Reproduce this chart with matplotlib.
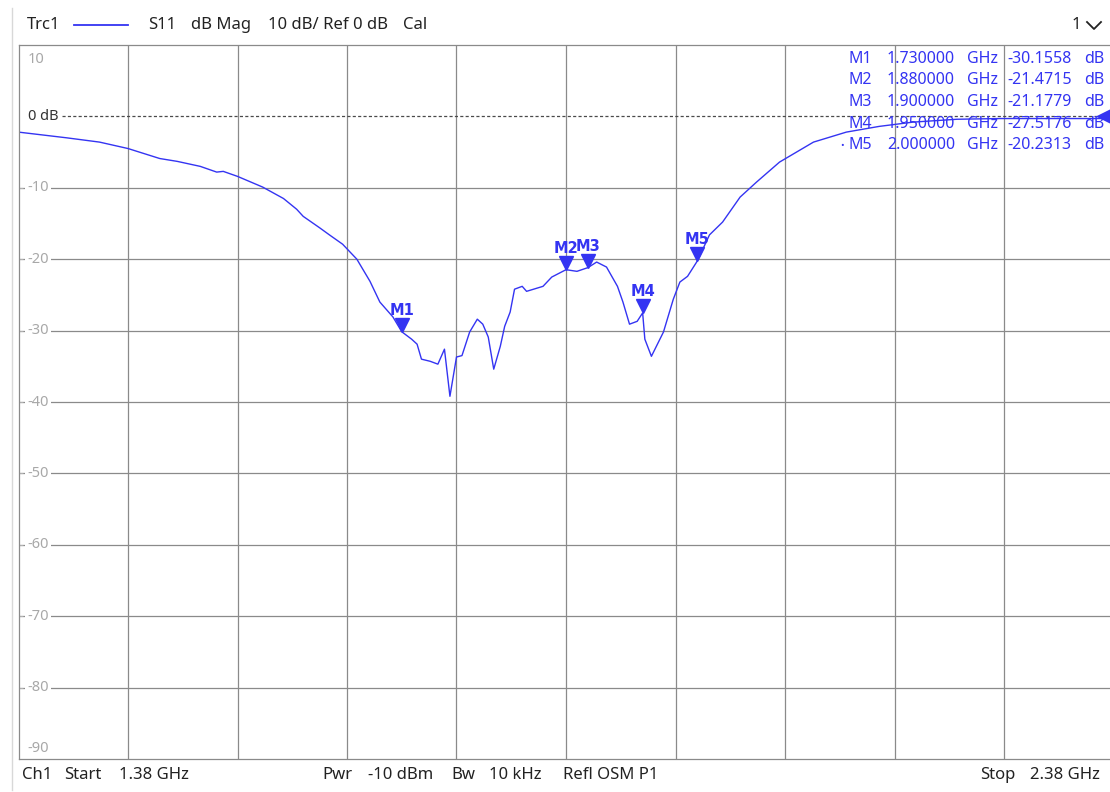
import numpy as np
import matplotlib.pyplot as plt
from matplotlib.lines import Line2D
from matplotlib.transforms import offset_copy

# Trace S11 (GHz, dB)
freq_ghz = [1.380, 1.424, 1.454, 1.480, 1.509, 1.525, 1.546, 1.561, 1.567, 1.580,
            1.603, 1.622, 1.634, 1.640, 1.655, 1.664, 1.676, 1.689, 1.701, 1.710,
            1.722, 1.730, 1.739, 1.744, 1.748, 1.756, 1.763, 1.769, 1.774, 1.780,
            1.785, 1.792, 1.799, 1.804, 1.809, 1.814, 1.820, 1.824, 1.829, 1.833,
            1.840, 1.844, 1.859, 1.867, 1.880, 1.890, 1.900, 1.908, 1.917, 1.927,
            1.932, 1.938, 1.945, 1.950, 1.952, 1.958, 1.969, 1.978, 1.984, 1.991,
            2.000, 2.011, 2.023, 2.039, 2.054, 2.075, 2.106, 2.136, 2.166, 2.197,
            2.237, 2.276, 2.380]
s11_db = [-2.2, -3.0, -3.6, -4.5, -5.9, -6.3, -7.0, -7.8, -7.7, -8.4,
          -9.9, -11.5, -13.0, -14.0, -15.6, -16.6, -17.9, -20.0, -23.1, -26.0,
          -28.1, -30.16, -31.2, -31.9, -34.0, -34.3, -34.7, -32.6, -39.2, -33.7,
          -33.5, -30.2, -28.4, -29.1, -30.9, -35.4, -32.2, -29.4, -27.4, -24.2,
          -23.8, -24.5, -23.8, -22.5, -21.47, -21.7, -21.18, -20.4, -21.1, -23.8,
          -26.0, -29.1, -28.7, -27.52, -31.2, -33.6, -30.2, -25.6, -23.2, -22.4,
          -20.23, -16.6, -14.8, -11.3, -9.2, -6.4, -3.6, -2.2, -1.4, -0.8,
          -0.4, -0.3, -0.3]

# Markers
marker_names = ['M1', 'M2', 'M3', 'M4', 'M5']
marker_freq = [1.730000, 1.880000, 1.900000, 1.950000, 2.000000]
marker_db = [-30.1558, -21.4715, -21.1779, -27.5176, -20.2313]

# Axis setup
f_start, f_stop = 1.38, 2.38
ref_level = 0
y_levels = [10, -10, -20, -30, -40, -50, -60, -70, -80, -90]

W, H = 1110, 792
BLUE = '#3434f2'
GRID = '#8a8a8a'
plt.rcParams['font.family'] = ['Noto Sans', 'DejaVu Sans']

fig = plt.figure(figsize=(W / 100, H / 100), dpi=100)
fig.patch.set_facecolor('white')


def fx(x):
    return x / W


def fy(y):
    return 1 - y / H


ax = fig.add_axes([18.5 / W, 33 / H, 1095 / W, 714 / H])
ax.set_xlim(f_start, f_stop)
ax.set_ylim(-90, 10)

# grid: 10 divisions in x, 10 dB/div in y
ax.set_xticks(np.linspace(f_start, f_stop, 11)[1:-1])
ax.set_yticks([v for v in y_levels if -90 < v < 10])
ax.grid(True, color=GRID, lw=0.9)
ax.tick_params(axis='x', length=0, labelbottom=False)
ax.tick_params(axis='y', direction='in', length=3, color='#b0b0b0', labelleft=False)
for side in ['left', 'top', 'bottom']:
    ax.spines[side].set_color(GRID)
    ax.spines[side].set_linewidth(0.9)
ax.spines['right'].set_visible(False)

# y labels inside the plot
ytr = ax.get_yaxis_transform()
for v in y_levels:
    if v == 10:
        ax.annotate(str(v), xy=(0, v), xycoords=ytr, xytext=(9, -7), textcoords='offset pixels',
                    ha='left', va='top', fontsize=10.5, color='#a8a8a8')
    elif v == -90:
        ax.annotate(str(v), xy=(0, v), xycoords=ytr, xytext=(9, 3), textcoords='offset pixels',
                    ha='left', va='bottom', fontsize=10.5, color='#a8a8a8')
    else:
        ax.annotate(str(v), xy=(0, v), xycoords=ytr, xytext=(9, 0), textcoords='offset pixels',
                    ha='left', va='center', fontsize=10.5, color='#a8a8a8',
                    bbox=dict(boxstyle='square,pad=0.15', fc='white', ec='none'))

# reference line
ax.axhline(ref_level, xmin=(62 - 18.5) / 1095, color='#4a4a4a', lw=0.9, ls=(0, (2.5, 1.8)))
ax.annotate('0 dB', xy=(0, ref_level), xycoords=ytr, xytext=(9, 0), textcoords='offset pixels',
            ha='left', va='center', fontsize=10.5, color='#333333')
ax.plot([f_stop], [ref_level], marker='<', ms=15, color=BLUE, clip_on=False,
        transform=offset_copy(ax.transData, fig=fig, x=-7, units='dots'))

# trace
ax.plot(freq_ghz, s11_db, color=BLUE, lw=1.0)

# marker triangles and labels
tri_tr = offset_copy(ax.transData, fig=fig, y=7, units='dots')
ax.plot(marker_freq, marker_db, 'v', ms=10.5, color=BLUE, transform=tri_tr, ls='none')
for name, f, v in zip(marker_names, marker_freq, marker_db):
    ax.annotate(name, xy=(f, v), xytext=(0, 17), textcoords='offset pixels',
                ha='center', va='baseline', fontsize=10.5, fontweight='bold',
                family='DejaVu Sans', color=BLUE)

# marker table
for i, (name, f, v) in enumerate(zip(marker_names, marker_freq, marker_db)):
    y = 59 + 21.5 * i
    kw = dict(fontsize=11.5, color=BLUE, va='center')
    fig.text(fx(849), fy(y), name, ha='left', **kw)
    fig.text(fx(887), fy(y), f'{f:.6f}', ha='left', **kw)
    fig.text(fx(998), fy(y), 'GHz', ha='right', **kw)
    fig.text(fx(1007), fy(y), f'{v:.4f}', ha='left', **kw)
    fig.text(fx(1104), fy(y), 'dB', ha='right', **kw)
    if i == len(marker_names) - 1:
        fig.text(fx(842), fy(y), '•', ha='center', fontsize=7, color=BLUE, va='center')

# header
hdr = dict(fontsize=12, color='#222222', va='center')
fig.text(fx(27), fy(25), 'Trc1', ha='left', **hdr)
fig.add_artist(Line2D([fx(74), fx(128)], [fy(25), fy(25)], color=BLUE, lw=1.3))
fig.text(fx(148), fy(25), 'S11', ha='left', **hdr)
fig.text(fx(191), fy(25), 'dB Mag', ha='left', **hdr)
fig.text(fx(268), fy(25), '10 dB/ Ref 0 dB', ha='left', **hdr)
fig.text(fx(403), fy(25), 'Cal', ha='left', **hdr)
fig.text(fx(1081), fy(25), '1', ha='right', **hdr)
fig.add_artist(Line2D([fx(1087), fx(1094), fx(1101)], [fy(22), fy(29), fy(22)],
                      color='#222222', lw=1.3))

# footer
fig.text(fx(22), fy(775), 'Ch1', ha='left', **hdr)
fig.text(fx(64), fy(775), 'Start', ha='left', **hdr)
fig.text(fx(119), fy(775), '1.38 GHz', ha='left', **hdr)
fig.text(fx(322), fy(775), 'Pwr', ha='left', **hdr)
fig.text(fx(368), fy(775), '-10 dBm', ha='left', **hdr)
fig.text(fx(451), fy(775), 'Bw', ha='left', **hdr)
fig.text(fx(489), fy(775), '10 kHz', ha='left', **hdr)
fig.text(fx(563), fy(775), 'Refl OSM P1', ha='left', **hdr)
fig.text(fx(980), fy(775), 'Stop', ha='left', **hdr)
fig.text(fx(1100), fy(775), '2.38 GHz', ha='right', **hdr)

# window border on the left
fig.add_artist(Line2D([fx(12), fx(12)], [fy(8), fy(790)], color='#d8d8d8', lw=1.0))

fig.savefig('out.png', dpi=100)
